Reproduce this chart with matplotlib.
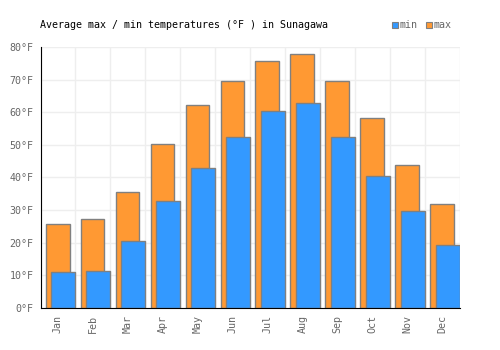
import matplotlib
matplotlib.use("Agg")
import matplotlib.pyplot as plt
from matplotlib.patches import Rectangle
import numpy as np

months = ["Jan", "Feb", "Mar", "Apr", "May", "Jun", "Jul", "Aug", "Sep", "Oct", "Nov", "Dec"]
t_max = [25.6, 27.2, 35.4, 50.2, 62.2, 69.5, 75.8, 77.7, 69.7, 58.1, 43.7, 32.0]
t_min = [10.9, 11.3, 20.4, 32.7, 42.9, 52.4, 60.5, 62.8, 52.3, 40.3, 29.6, 19.2]
yticks = [0, 10, 20, 30, 40, 50, 60, 70, 80]

plt.rcParams['font.family'] = ['DejaVu Sans Mono']
fig = plt.figure(figsize=(5, 3.5), dpi=100)
ax = fig.add_axes([0.081, 0.12, 0.839, 0.746])

x = np.arange(len(months))
orange = "#FF9933"
blue = "#3399FF"
edge = "#808080"
ax.bar(x - 0.01, t_max, width=0.68, color=orange, edgecolor=edge, linewidth=1, zorder=3)
ax.bar(x + 0.15, t_min, width=0.70, color=blue, edgecolor=edge, linewidth=1, zorder=4)

ax.set_xlim(-0.5, len(months) - 0.5)
ax.set_ylim(0, 80)
ax.set_yticks(yticks)
ax.set_yticklabels([f"{v}°F" for v in yticks])
ax.set_xticks(x)
ax.set_xticklabels(months, rotation=90)
ax.tick_params(axis='both', length=0, labelsize=7.2, colors="#666666", pad=5)

ax.set_xticks(np.arange(-0.5, len(months) + 0.5, 1), minor=True)
ax.tick_params(axis='x', which='minor', length=0)
ax.grid(True, which='minor', axis='x', color="#eeeeee", linewidth=1, zorder=0)
ax.grid(True, which='major', axis='y', color="#eeeeee", linewidth=1, zorder=0)

for s in ["top", "right"]:
    ax.spines[s].set_visible(False)
ax.spines["left"].set_color("black")
ax.spines["bottom"].set_color("black")
ax.spines["left"].set_zorder(5)
ax.spines["bottom"].set_zorder(5)

fig.text(0.08, 0.93, "Average max / min temperatures (°F ) in Sunagawa",
         fontsize=7.2, color="black", ha="left", va="center")

# legend
fig.patches.append(Rectangle((392/500, 1 - 28/350), 6/500, 6/350, transform=fig.transFigure,
                             facecolor=blue, edgecolor=edge, linewidth=0.8))
fig.text(400/500, 1 - 24.5/350, "min", fontsize=7.2, color="#666666", ha="left", va="center")
fig.patches.append(Rectangle((426/500, 1 - 28/350), 6/500, 6/350, transform=fig.transFigure,
                             facecolor=orange, edgecolor=edge, linewidth=0.8))
fig.text(434/500, 1 - 24.5/350, "max", fontsize=7.2, color="#666666", ha="left", va="center")

fig.savefig("out.png", dpi=100)
